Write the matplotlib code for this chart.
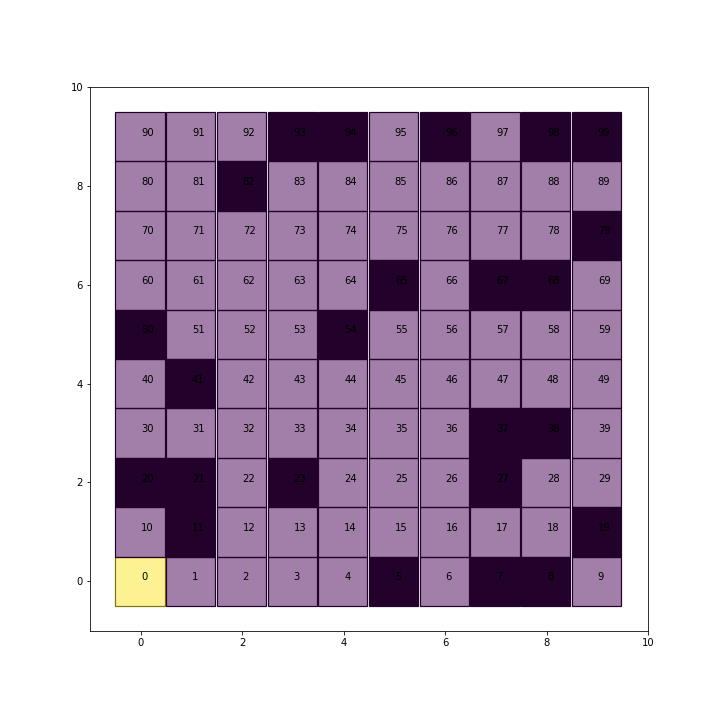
import matplotlib
matplotlib.use("Agg")
import matplotlib.pyplot as plt
from matplotlib.patches import Rectangle
import numpy as np

n_cols = 10
n_rows = 10
cell_ids = list(range(100))
goal_cells = [0]
obstacle_cells = [5, 7, 8, 11, 19, 20, 21, 23, 27, 37, 38, 41, 50, 54,
                  65, 67, 68, 79, 82, 93, 94, 96, 98, 99]
xticks = [0, 2, 4, 6, 8, 10]
yticks = [0, 2, 4, 6, 8, 10]

fig = plt.figure(figsize=(10, 10), dpi=72)
ax = fig.add_axes([0.125, 0.124, 0.775, 0.755])
cmap = plt.get_cmap("viridis")

for cid in cell_ids:
    col = cid % n_cols
    row = cid // n_cols
    v = 1.0 if cid in goal_cells else 0.0
    base = np.array(cmap(v)[:3])
    dark = base * 0.5
    if cid in obstacle_cells:
        face = tuple(dark) + (1.0,)
    else:
        face = tuple(base) + (0.5,)
    rect = Rectangle((col - 0.5, row - 0.5), 0.97, 1.0,
                     facecolor=face, edgecolor=tuple(dark), linewidth=1.2)
    ax.add_patch(rect)
    ax.text(col + 0.01, row + 0.08, str(cid), ha="left", va="center",
            fontsize=10, color="black")

ax.set_xlim(-1, 10)
ax.set_ylim(-1, 10)
ax.set_xticks(xticks)
ax.set_yticks(yticks)
ax.tick_params(labelsize=10)

fig.savefig("out.png", dpi=72)
